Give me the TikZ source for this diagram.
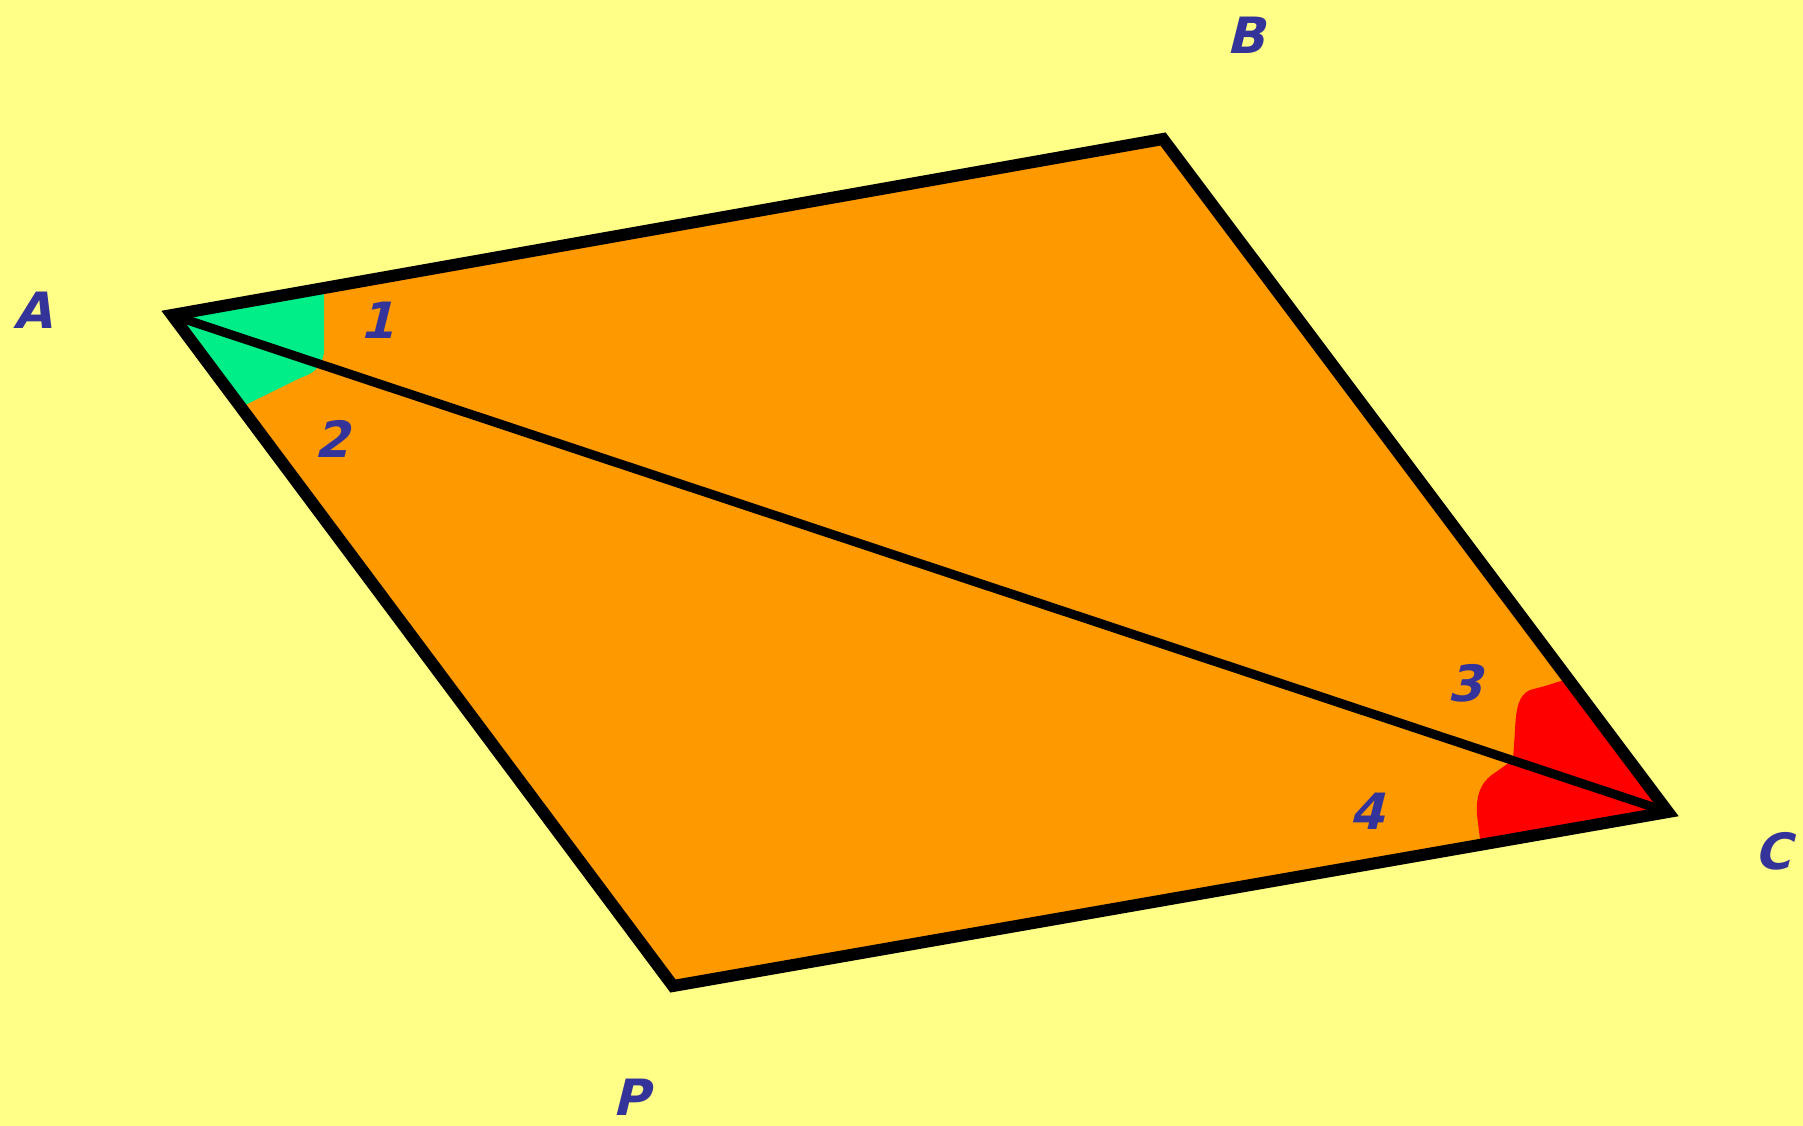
\documentclass[tikz,border=0pt]{standalone}
\usepackage{fontspec}
\setmainfont{DejaVu Sans}
\definecolor{bgy}{RGB}{255,255,136}
\definecolor{quadfill}{RGB}{255,153,0}
\definecolor{angg}{RGB}{0,238,136}
\definecolor{angr}{RGB}{255,0,0}
\definecolor{lblue}{RGB}{51,51,153}
\begin{document}
\begin{tikzpicture}[x=1pt,y=-1pt,
  lbl/.style={text=lblue,font=\fontsize{50}{54}\selectfont\bfseries,xslant=0.25,inner sep=0pt},
  edge/.style={line width=12pt,line join=miter,black}]
\useasboundingbox (0,0) rectangle (1803,1126);
\fill[bgy] (0,0) rectangle (1803,1126);
\coordinate (A) at (172,315);
\coordinate (B) at (1163,139);
\coordinate (C) at (1668,812);
\coordinate (P) at (673,986);
\fill[quadfill] (A) -- (B) -- (C) -- (P) -- cycle;
\begin{scope}
  \clip (A) -- (B) -- (C) -- (P) -- cycle;
  \fill[angg] (A) -- (324,250) -- (324,352) .. controls (322,368) and (312,374) .. (300,378) -- (225,415) -- cycle;
  \fill[angr] (C) -- (1580,675) -- (1545,686) -- (1530,690) .. controls (1518,695) and (1516,710) .. (1515,730) -- (1512,775) -- cycle;
  \fill[angr] (C) -- (1510,762) -- (1496,772) .. controls (1480,782) and (1476,795) .. (1477,815) -- (1482,855) -- cycle;
\end{scope}
\draw[edge] (A) -- (B) -- (C) -- (P) -- cycle;
\draw[edge,line width=9pt] (A) -- (C);
\node[lbl] (lA) at (37,310) {A};
\node[lbl] (lB) at (1250,35) {B};
\node[lbl] (lC) at (1777,851) {C};
\node[lbl] (lP) at (635,1097) {P};
\node[lbl] (n1) at (381,320) {1};
\node[lbl] (n2) at (337,439) {2};
\node[lbl] (n3) at (1469,683) {3};
\node[lbl] (n4) at (1371,811) {4};
\end{tikzpicture}
\end{document}
